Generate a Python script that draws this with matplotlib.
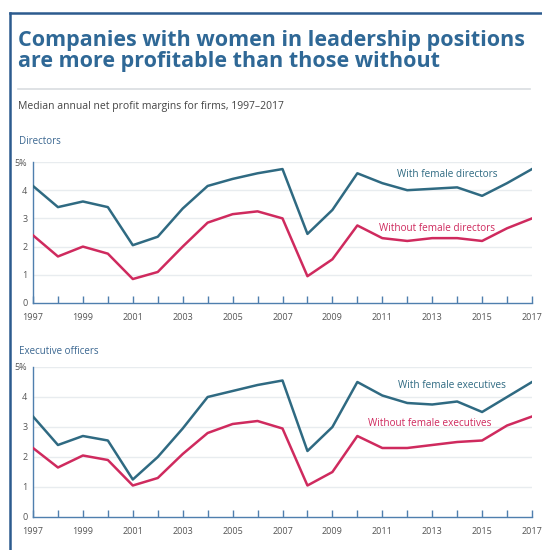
import matplotlib
matplotlib.use("Agg")
import matplotlib.pyplot as plt
from matplotlib.lines import Line2D

years = list(range(1997, 2018))
dir_with = [4.15, 3.4, 3.6, 3.4, 2.05, 2.35, 3.35, 4.15, 4.4, 4.6, 4.75, 2.45, 3.3, 4.6, 4.25, 4.0, 4.05, 4.1, 3.8, 4.25, 4.75]
dir_without = [2.4, 1.65, 2.0, 1.75, 0.85, 1.1, 2.0, 2.85, 3.15, 3.25, 3.0, 0.95, 1.55, 2.75, 2.3, 2.2, 2.3, 2.3, 2.2, 2.65, 3.0]
exe_with = [3.35, 2.4, 2.7, 2.55, 1.25, 2.0, 2.95, 4.0, 4.2, 4.4, 4.55, 2.2, 3.0, 4.5, 4.05, 3.8, 3.75, 3.85, 3.5, 4.0, 4.5]
exe_without = [2.3, 1.65, 2.05, 1.9, 1.05, 1.3, 2.1, 2.8, 3.1, 3.2, 2.95, 1.05, 1.5, 2.7, 2.3, 2.3, 2.4, 2.5, 2.55, 3.05, 3.35]
ytick_labels = ["0", "1", "2", "3", "4", "5%"]
xtick_labels = ["1997", "1999", "2001", "2003", "2005", "2007", "2009", "2011", "2013", "2015", "2017"]

TEAL = "#2f6a82"
PINK = "#cf2a5e"
AXIS = "#4f7fae"
GRID = "#e8ecef"
TXT = "#555555"
TITLE = "#2f6896"

plt.rcParams['font.family'] = ['Open Sans', 'DejaVu Sans']

W, H = 542, 550
fig = plt.figure(figsize=(5.42, 5.5), dpi=100)

def fx(px):
    return px / W

def fy(py):
    return 1 - py / H

# frame
fig.add_artist(Line2D([fx(10), fx(10)], [fy(13), 0], color="#2c5b8e", lw=1.8, transform=fig.transFigure))
fig.add_artist(Line2D([fx(10), 1], [fy(13), fy(13)], color="#2c5b8e", lw=1.8, transform=fig.transFigure))

fig.text(fx(18), fy(51), "Companies with women in leadership positions\nare more profitable than those without",
         fontsize=15.5, fontweight="bold", color=TITLE, va="center", ha="left", linespacing=0.98)
fig.add_artist(Line2D([fx(18), fx(530)], [fy(89), fy(89)], color="#d9dde0", lw=1.2, transform=fig.transFigure))
fig.text(fx(18), fy(106), "Median annual net profit margins for firms, 1997–2017", fontsize=7.5, color="#444444",
         va="center", ha="left")

panels = [
    ("Directors", 162, 303, 142, dir_with, dir_without,
     ("With female directors", 2013.6, 4.55), ("Without female directors", 2013.2, 2.65)),
    ("Executive officers", 367, 517, 352, exe_with, exe_without,
     ("With female executives", 2013.8, 4.4), ("Without female executives", 2012.9, 3.1)),
]

for name, top, bot, lab_y, w, wo, lw_, lwo in panels:
    ax = fig.add_axes([fx(33), fy(bot), fx(532) - fx(33), fy(top) - fy(bot)])
    ax.set_xlim(1997, 2017)
    ax.set_ylim(0, 5)
    for v in range(1, 6):
        ax.axhline(v, color=GRID, lw=1.0, zorder=0)
    ax.plot(years, w, color=TEAL, lw=1.8, zorder=3)
    ax.plot(years, wo, color=PINK, lw=1.8, zorder=3)
    ax.text(lw_[1], lw_[2], lw_[0], color=TEAL, fontsize=7.2, ha="center", va="center")
    ax.text(lwo[1], lwo[2], lwo[0], color=PINK, fontsize=7.2, ha="center", va="center")
    for s in ["top", "right"]:
        ax.spines[s].set_visible(False)
    for s in ["left", "bottom"]:
        ax.spines[s].set_color(AXIS)
        ax.spines[s].set_linewidth(1.0)
    ax.set_yticks(range(6))
    ax.set_yticklabels(ytick_labels, fontsize=6.5, color=TXT)
    ax.tick_params(axis="y", length=0, pad=4)
    ax.set_xticks(years, minor=True)
    ax.set_xticks(range(1997, 2018, 2))
    ax.set_xticklabels(xtick_labels, fontsize=6.5, color=TXT)
    ax.tick_params(axis="x", which="both", direction="in", length=5, color=AXIS, width=1.0, pad=7)
    ax.patch.set_alpha(0)
    fig.text(fx(19), fy(lab_y), name, fontsize=7, color="#3a6690", va="center", ha="left")

fig.savefig("out.png", dpi=100)
